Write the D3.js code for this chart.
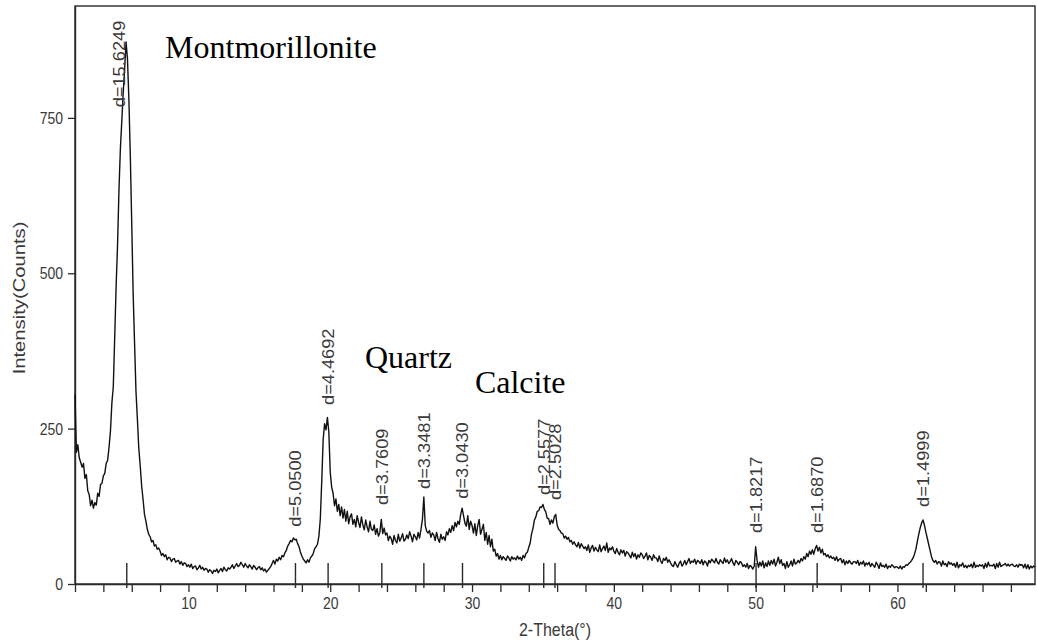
<!DOCTYPE html>
<html>
<head>
<meta charset="utf-8">
<script src="https://cdn.jsdelivr.net/npm/d3@7"></script>
<style>
  html, body { margin: 0; padding: 0; background: #fff; }
  svg { display: block; }
</style>
</head>
<body>
<svg id="chart" width="1037" height="640"></svg>
<script>
// Powder XRD scan: intensity sampled every 0.1° 2θ starting at 2.0°
const twoThetaStart = 2.0;
const twoThetaStep = 0.1;
const counts = [
  305,212,224,203,196,188,194,170,176,150,
  144,126,135,122,131,127,146,141,160,162,
  174,178,194,199,220,246,291,317,397,479,
  545,634,700,745,790,828,872,845,780,690,
  582,468,388,310,265,218,190,158,136,112,
  101,88,80,76,68,70,61,63,56,58,
  53,46,49,44,47,39,43,42,36,40,
  41,35,37,38,32,36,30,34,33,28,
  31,27,32,25,28,29,23,26,30,24,
  27,22,25,24,19,23,21,17,22,20,
  24,18,22,25,20,27,23,21,26,24,
  27,31,25,29,33,28,30,35,31,27,
  33,29,26,31,28,24,30,27,23,26,
  28,23,26,21,24,19,22,25,28,33,
  38,32,40,37,43,39,46,44,50,54,
  61,65,70,68,74,71,72,65,60,51,
  45,40,37,34,39,35,42,45,49,57,
  60,64,77,105,165,232,258,248,268,245,
  180,156,146,126,137,117,128,110,124,106,
  120,101,117,97,108,113,96,104,92,110,
  99,91,108,95,87,103,92,84,101,88,
  86,95,80,89,77,83,104,81,90,79,
  82,70,77,73,64,78,70,66,80,69,
  74,81,69,72,79,73,84,77,68,80,
  76,71,83,74,88,104,140,94,85,82,
  86,75,82,79,70,83,73,67,80,72,
  76,70,84,79,89,83,94,86,99,92,
  101,96,112,122,110,98,93,110,88,101,
  94,82,97,78,94,104,80,88,96,70,
  83,64,78,60,72,53,56,45,49,40,
  46,39,44,41,38,45,42,37,44,40,
  42,39,45,40,43,38,46,42,49,51,
  59,66,81,90,103,108,117,118,124,123,
  128,120,116,106,105,96,103,98,108,112,
  95,88,86,82,81,74,77,72,75,68,
  70,64,68,63,60,67,58,65,61,57,
  60,54,63,51,58,62,53,59,55,52,
  63,52,57,61,54,66,51,58,55,60,
  53,49,57,51,47,55,50,54,45,52,
  50,46,42,51,44,49,40,47,43,50,
  47,41,45,50,39,46,43,38,47,42,
  42,36,45,37,33,41,38,43,35,39,
  34,30,28,36,31,27,33,37,29,32,
  38,31,36,41,33,37,35,40,32,38,
  36,33,39,31,37,35,29,38,34,40,
  37,34,41,35,32,39,36,33,42,35,
  39,33,36,41,34,30,38,35,31,36,
  34,28,31,27,33,25,30,28,24,29,
  60,38,27,35,29,37,26,34,28,37,
  30,38,32,40,29,35,43,33,39,30,
  33,25,36,27,31,37,29,40,32,34,
  38,34,41,37,44,40,49,44,53,48,
  55,48,57,62,53,59,50,56,47,49,
  44,47,42,45,41,43,38,44,37,40,
  41,34,39,31,37,33,38,34,32,36,
  36,33,38,30,35,32,37,29,34,31,
  35,28,33,30,27,35,31,25,34,28,
  30,27,32,25,29,27,31,29,26,28,
  27,25,29,24,28,27,31,30,33,35,
  38,42,48,56,68,80,90,98,103,95,
  84,74,64,54,44,38,35,38,32,36,
  35,29,37,31,33,28,36,32,34,30,
  33,27,35,26,31,29,34,27,30,26,
  30,28,32,26,35,27,30,28,31,29,
  31,25,33,27,35,29,30,29,32,25,
  33,27,35,28,30,31,33,29,32,29,
  31,32,29,28,31,27,32,30,31,26,
  32,25,31,24,29,26,29,27
];

// Indexed reflections (d-spacing in Å) and the intensity level where each tag sits
const dSpacings   = [15.6249, 5.0500, 4.4692, 3.7609, 3.3481, 3.0430, 2.5577, 2.5028, 1.8217, 1.6870, 1.4999];
const dTagCounts  = [767, 92, 288, 127, 153, 137, 143, 135, 82, 82, 124];

// Phase names with their anchor (2θ, counts)
const phaseNames    = ["Montmorillonite", "Quartz", "Calcite"];
const phaseTwoTheta = [8.35, 22.45, 30.2];
const phaseCounts   = [846, 347, 307];

const yTickValues  = [0, 250, 500, 750];
const xTickLabels  = [10, 20, 30, 40, 50, 60];
const wavelength   = 1.5406; // Cu Kα1, Å

const STRETCH = 1.14;
const sans = "'Liberation Sans', Arial, Helvetica, sans-serif";
const serif = "'Liberation Serif', 'Times New Roman', serif";

const svg = d3.select("#chart");
const x = d3.scaleLinear().domain([2, 69.7]).range([75, 1035]);
const y = d3.scaleLinear().domain([0, 930]).range([584, 6]);

const twoThetaOf = d => 2 * Math.asin(wavelength / (2 * d)) * 180 / Math.PI;

// plot frame
svg.append("rect")
  .attr("x", x(2)).attr("y", y(930))
  .attr("width", x(69.7) - x(2)).attr("height", y(0) - y(930))
  .attr("fill", "none").attr("stroke", "#2a2a2a").attr("stroke-width", 1.4);

// x axis: minor ticks every 2°, labels every 10°
const xAxis = d3.axisBottom(x)
  .tickValues(d3.range(2, 69.7, 2))
  .tickSize(8).tickSizeOuter(0)
  .tickFormat(d => xTickLabels.includes(d) ? d : "");
const gx = svg.append("g").attr("transform", `translate(0,${y(0)})`).call(xAxis);
gx.select(".domain").attr("stroke", "#2a2a2a").attr("stroke-width", 1.4);
gx.selectAll(".tick line").attr("stroke", "#2a2a2a").attr("stroke-width", 1.3);
gx.selectAll(".tick text")
  .attr("y", 0).attr("dy", null)
  .attr("transform", `translate(0,25) scale(1,${STRETCH})`)
  .attr("font-family", sans).attr("font-size", 14).attr("fill", "#3a3a3a");

// y axis
const yAxis = d3.axisLeft(y).tickValues(yTickValues).tickSize(7).tickSizeOuter(0);
const gy = svg.append("g").attr("transform", `translate(${x(2)},0)`).call(yAxis);
gy.select(".domain").attr("stroke", "#2a2a2a").attr("stroke-width", 1.4);
gy.selectAll(".tick line").attr("stroke", "#2a2a2a").attr("stroke-width", 1.3);
gy.selectAll(".tick text")
  .attr("x", 0).attr("dy", null)
  .attr("transform", `translate(-12,5.5) scale(1,${STRETCH})`)
  .attr("font-family", sans).attr("font-size", 14).attr("fill", "#3a3a3a");

// diffraction pattern
const line = d3.line()
  .x((d, i) => x(twoThetaStart + i * twoThetaStep))
  .y(d => y(d));
svg.append("path")
  .datum(counts)
  .attr("d", line)
  .attr("fill", "none")
  .attr("stroke", "#111")
  .attr("stroke-width", 1.4)
  .attr("stroke-linejoin", "round");

// reflection markers on the baseline
const peaks = dSpacings.map((d, i) => ({ d, tt: twoThetaOf(d), at: dTagCounts[i] }));
svg.append("g").selectAll("line")
  .data(peaks).join("line")
  .attr("x1", p => x(p.tt)).attr("x2", p => x(p.tt))
  .attr("y1", y(0) - 21).attr("y2", y(0) + 4)
  .attr("stroke", "#2a2a2a").attr("stroke-width", 1.4);

// d-spacing tags
const tagNudge = { 0: -8 };
svg.append("g").selectAll("text")
  .data(peaks).join("text")
  .attr("transform", (p, i) => `translate(${x(p.tt) + (tagNudge[i] || 0)},${y(p.at)}) scale(1,${STRETCH}) rotate(-90)`)
  .attr("dy", "0.36em")
  .attr("font-family", sans).attr("font-size", 16).attr("fill", "#3a3a3a")
  .text(p => "d=" + p.d.toFixed(4));

// phase names
svg.append("g").selectAll("text")
  .data(phaseNames).join("text")
  .attr("x", (n, i) => x(phaseTwoTheta[i]))
  .attr("y", (n, i) => y(phaseCounts[i]))
  .attr("font-family", serif).attr("font-size", 32).attr("fill", "#000")
  .text(n => n);

// axis titles
svg.append("text")
  .attr("transform", `translate(${(x(2) + x(69.7)) / 2 },636) scale(1,${STRETCH})`)
  .attr("text-anchor", "middle")
  .attr("font-family", sans).attr("font-size", 16).attr("fill", "#3a3a3a")
  .text("2-Theta(°)");

svg.append("text")
  .attr("transform", `translate(25,298) scale(1,${STRETCH}) rotate(-90)`)
  .attr("text-anchor", "middle")
  .attr("textLength", 134).attr("lengthAdjust", "spacingAndGlyphs")
  .attr("font-family", sans).attr("font-size", 16).attr("fill", "#3a3a3a")
  .text("Intensity(Counts)");
</script>
</body>
</html>
